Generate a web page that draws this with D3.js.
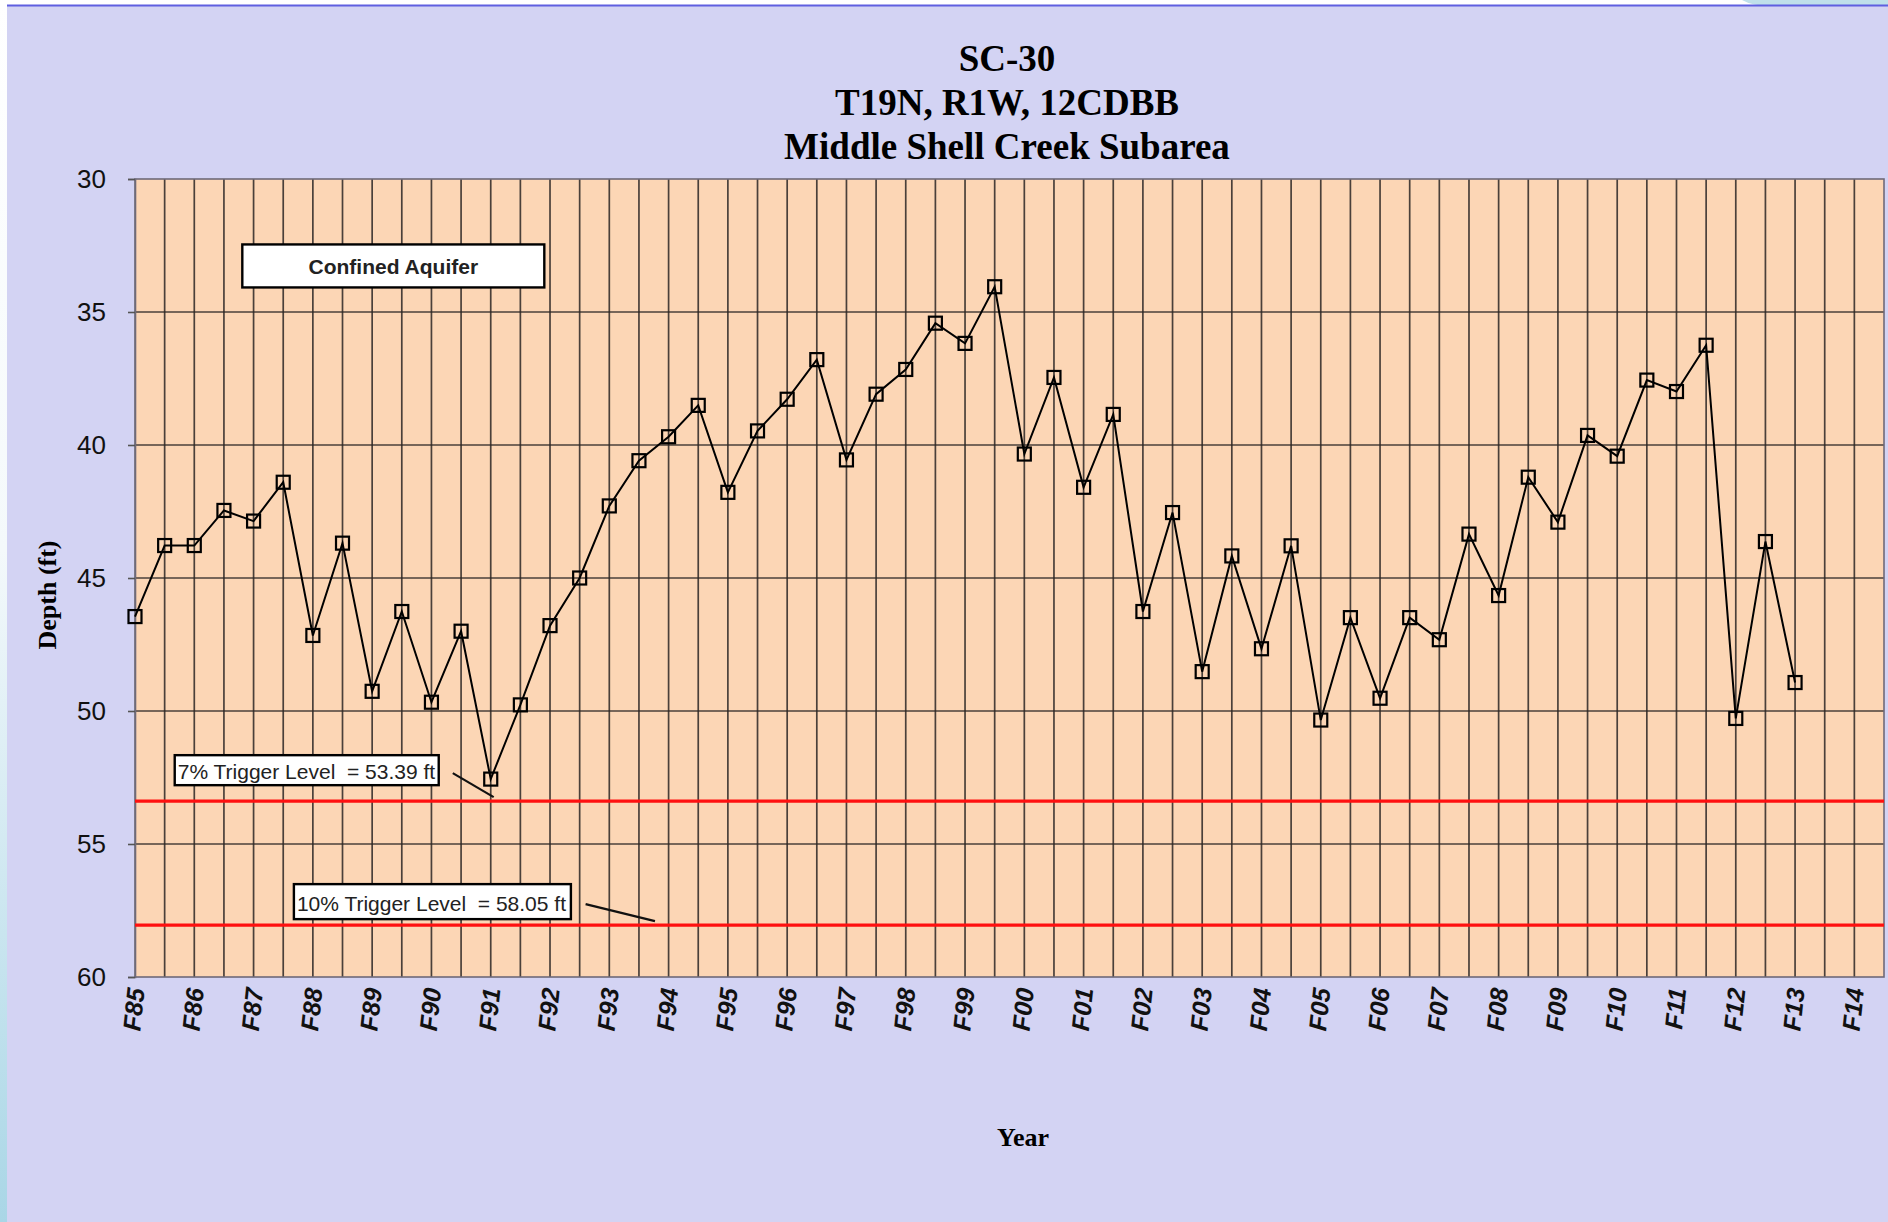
<!DOCTYPE html>
<html>
<head>
<meta charset="utf-8">
<script src="https://cdn.jsdelivr.net/npm/d3@7"></script>
<style>
  html, body { margin: 0; padding: 0; background: #ffffff; overflow: hidden; }
  svg { display: block; }
</style>
</head>
<body>
<svg id="chart" width="1888" height="1222"></svg>
<script>
// Well SC-30 – semiannual depth-to-water readings, fall 1985 to fall 2013
const titleLines = ["SC-30", "T19N, R1W, 12CDBB", "Middle Shell Creek Subarea"];
const yearLabels = ["F85","F86","F87","F88","F89","F90","F91","F92","F93","F94",
                    "F95","F96","F97","F98","F99","F00","F01","F02","F03","F04",
                    "F05","F06","F07","F08","F09","F10","F11","F12","F13","F14"];
// one reading every half year, starting at F85
const depthFt = [46.45, 43.78, 43.78, 42.46, 42.86, 41.40, 47.16, 43.69, 49.26, 46.26,
                 49.67, 47.00, 52.56, 49.77, 46.79, 45.00, 42.29, 40.59, 39.69, 38.51,
                 41.78, 39.47, 38.28, 36.79, 40.56, 38.09, 37.16, 35.42, 36.18, 34.05,
                 40.34, 37.46, 41.59, 38.85, 46.26, 42.54, 48.52, 44.17, 47.66, 43.79,
                 50.34, 46.49, 49.52, 46.49, 47.32, 43.35, 45.66, 41.21, 42.90, 39.64,
                 40.42, 37.56, 37.99, 36.25, 50.28, 43.63, 48.93];
const depthTicks = [30, 35, 40, 45, 50, 55, 60];
const triggerLevels = [53.39, 58.05];
const triggerLabels = ["7% Trigger Level  = 53.39 ft", "10% Trigger Level  = 58.05 ft"];
const aquiferLabel = "Confined Aquifer";
const xTitle = "Year";
const yTitle = "Depth (ft)";

const svg = d3.select("#chart");
const W = 1888, H = 1222;
const plot = { left: 135, right: 1884, top: 179, bottom: 977 };

// ---- page backdrop ----
const defs = svg.append("defs");
const grad = defs.append("linearGradient").attr("id", "edgeGrad")
  .attr("x1", 0).attr("y1", 0).attr("x2", 0).attr("y2", 1);
grad.append("stop").attr("offset", "0%").attr("stop-color", "#ffffff");
grad.append("stop").attr("offset", "45%").attr("stop-color", "#f4f9fb");
grad.append("stop").attr("offset", "100%").attr("stop-color", "#a9d6e6");

svg.append("rect").attr("x", 0).attr("y", 0).attr("width", W).attr("height", H).attr("fill", "#ffffff");
svg.append("rect").attr("x", 0).attr("y", 0).attr("width", 8).attr("height", H).attr("fill", "url(#edgeGrad)");
svg.append("path").attr("d", "M1742,0 Q1752,6 1772,6 L1888,6 L1888,0 Z").attr("fill", "#bfe0ea");
svg.append("rect").attr("x", 7).attr("y", 5).attr("width", W - 7).attr("height", H - 5).attr("fill", "#d3d3f3");
svg.append("line").attr("x1", 7).attr("x2", W).attr("y1", 5.5).attr("y2", 5.5)
  .attr("stroke", "#5f5fe0").attr("stroke-width", 2);

// ---- scales ----
const x = d3.scaleLinear().domain([0, 29.5]).range([plot.left, plot.right]);
const y = d3.scaleLinear().domain([30, 60]).range([plot.top, plot.bottom]);

// plot area
svg.append("rect")
  .attr("x", plot.left).attr("y", plot.top)
  .attr("width", plot.right - plot.left).attr("height", plot.bottom - plot.top)
  .attr("fill", "#fcd6b5");

// ---- grid ----
const gridColor = "#2a2624";
const halfYears = d3.range(1, 59).map(i => i / 2);
svg.append("g").selectAll("line").data(halfYears).join("line")
  .attr("x1", d => x(d)).attr("x2", d => x(d))
  .attr("y1", plot.top).attr("y2", plot.bottom)
  .attr("stroke", gridColor).attr("stroke-width", 1.7).attr("stroke-opacity", 0.85);
svg.append("g").selectAll("line").data(depthTicks.slice(1, -1)).join("line")
  .attr("x1", plot.left).attr("x2", plot.right)
  .attr("y1", d => y(d)).attr("y2", d => y(d))
  .attr("stroke", gridColor).attr("stroke-width", 1.7).attr("stroke-opacity", 0.85);

// plot border
svg.append("rect")
  .attr("x", plot.left).attr("y", plot.top)
  .attr("width", plot.right - plot.left).attr("height", plot.bottom - plot.top)
  .attr("fill", "none").attr("stroke", "#6e6a78").attr("stroke-width", 1.6);

// ---- y axis ----
const yAxis = d3.axisLeft(y).tickValues(depthTicks).tickSize(7).tickPadding(22);
const yg = svg.append("g").attr("transform", `translate(${plot.left},0)`).call(yAxis);
yg.select(".domain").attr("stroke", "#6e6a78").attr("stroke-width", 1.6);
yg.selectAll(".tick line").attr("stroke", "#555").attr("stroke-width", 1.6);
yg.selectAll(".tick text")
  .attr("fill", "#111")
  .style("font-family", "'Liberation Sans', Arial, sans-serif")
  .style("font-size", "26px");

// ---- x axis labels ----
const xg = svg.append("g");
xg.selectAll("text").data(yearLabels).join("text")
  .attr("transform", (d, i) => `translate(${x(i) + 1},${plot.bottom + 11}) rotate(-84)`)
  .attr("text-anchor", "end")
  .attr("dy", "0.35em")
  .attr("fill", "#111")
  .style("font-family", "'Liberation Sans', Arial, sans-serif")
  .style("font-size", "25px")
  .style("font-weight", "bold")
  .style("font-style", "italic")
  .text(d => d);

// ---- trigger levels ----
svg.append("g").selectAll("line").data(triggerLevels).join("line")
  .attr("x1", plot.left).attr("x2", plot.right)
  .attr("y1", d => y(d)).attr("y2", d => y(d))
  .attr("stroke", "#ff1010").attr("stroke-width", 3.2);

// ---- depth series ----
const pts = depthFt.map((v, i) => ({ t: i / 2, v }));
svg.append("path").datum(pts)
  .attr("fill", "none").attr("stroke", "#000").attr("stroke-width", 2)
  .attr("stroke-linejoin", "miter")
  .attr("d", d3.line().x(d => x(d.t)).y(d => y(d.v)));
const m = 13;
svg.append("g").selectAll("rect").data(pts).join("rect")
  .attr("x", d => x(d.t) - m / 2).attr("y", d => y(d.v) - m / 2)
  .attr("width", m).attr("height", m)
  .attr("fill", "none").attr("stroke", "#000").attr("stroke-width", 2.2);

// ---- annotation boxes ----
function labelBox(x0, y0, w, h, txt, opts) {
  const g = svg.append("g");
  g.append("rect").attr("x", x0).attr("y", y0).attr("width", w).attr("height", h)
    .attr("fill", "#ffffff").attr("stroke", "#000").attr("stroke-width", 2.4);
  g.append("text")
    .attr("x", opts.anchor === "middle" ? x0 + w / 2 : x0 + 3)
    .attr("y", y0 + opts.base)
    .attr("text-anchor", opts.anchor)
    .attr("fill", "#222")
    .style("font-family", "'Liberation Sans', Arial, sans-serif")
    .style("font-size", opts.size + "px")
    .style("font-weight", opts.weight)
    .style("white-space", "pre")
    .attr("xml:space", "preserve")
    .text(txt);
  return g;
}

labelBox(x(1.81), y(32.46), 302, 43, aquiferLabel, { anchor: "middle", base: 30, size: 21, weight: "bold" });

// 7% trigger label and leader
labelBox(x(0.67), y(triggerLevels[0]) - 46, 264, 30, triggerLabels[0], { anchor: "start", base: 24, size: 21, weight: "normal" });
svg.append("line")
  .attr("x1", x(5.36)).attr("y1", y(triggerLevels[0]) - 28)
  .attr("x2", x(6.05)).attr("y2", y(triggerLevels[0]) - 4)
  .attr("stroke", "#111").attr("stroke-width", 2.2);

// 10% trigger label and leader
labelBox(x(2.68), y(triggerLevels[1]) - 41, 277, 35, triggerLabels[1], { anchor: "start", base: 27, size: 21, weight: "normal" });
svg.append("line")
  .attr("x1", x(7.6)).attr("y1", y(triggerLevels[1]) - 21)
  .attr("x2", x(8.77)).attr("y2", y(triggerLevels[1]) - 4)
  .attr("stroke", "#111").attr("stroke-width", 2.2);

// ---- titles ----
const serif = "'Liberation Serif', 'Times New Roman', serif";
svg.append("g").selectAll("text").data(titleLines).join("text")
  .attr("x", 1007).attr("y", (d, i) => 71 + i * 44)
  .attr("text-anchor", "middle")
  .attr("fill", "#000")
  .style("font-family", serif).style("font-size", "37px").style("font-weight", "bold")
  .text(d => d);

svg.append("text")
  .attr("x", 1023).attr("y", 1146)
  .attr("text-anchor", "middle").attr("fill", "#000")
  .style("font-family", serif).style("font-size", "26px").style("font-weight", "bold")
  .text(xTitle);

svg.append("text")
  .attr("transform", "translate(56,595) rotate(-90)")
  .attr("text-anchor", "middle").attr("fill", "#000")
  .style("font-family", serif).style("font-size", "26px").style("font-weight", "bold")
  .text(yTitle);
</script>
</body>
</html>
